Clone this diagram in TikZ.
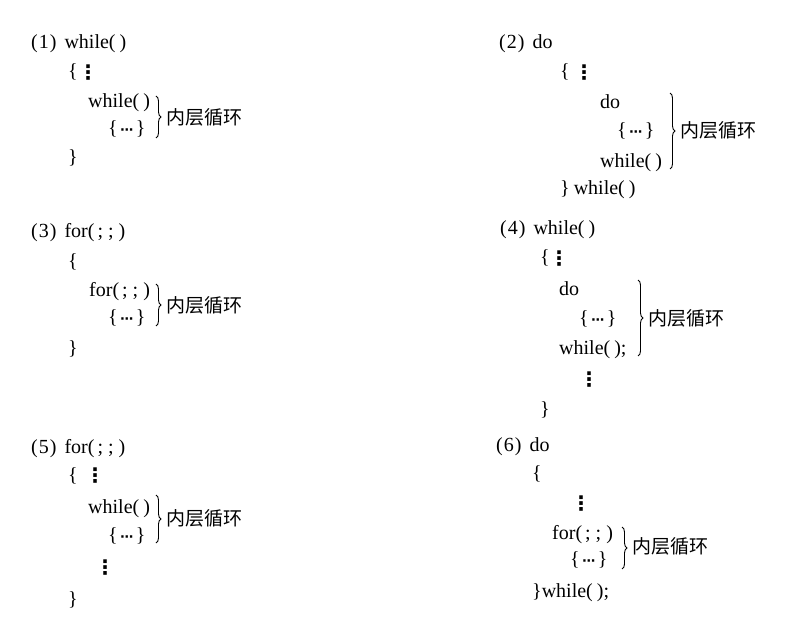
\documentclass[tikz,border=0pt]{standalone}
\usepackage{fontspec}
\setmainfont{Liberation Serif}
\newfontfamily\cjk{Noto Sans CJK SC}
\newfontfamily\sym{DejaVu Sans}
\usetikzlibrary{decorations.pathreplacing}
\newcommand\codefont{\fontsize{20}{23}\selectfont}
\newcommand\cjkfont{\cjk\fontsize{19}{22}\selectfont}
\newcommand\dotfont{\sym\bfseries\fontsize{20}{22}\selectfont}
\newcommand\cd{\{\kern2.5pt{\sym\bfseries\fontsize{13}{14}\selectfont ⋯}\kern2.5pt\}}
\newcommand\wh{while(\kern4pt)}
\newcommand\fr{for(\kern3pt;\kern5pt;\kern5pt)}
\newcommand\num[1]{(\kern1pt#1\kern1pt)\kern8pt}
\begin{document}
\begin{tikzpicture}[x=1pt,y=-1pt,
  code/.style={anchor=west, inner sep=0pt, font=\codefont, text height=18pt, text depth=4pt},
  lbl/.style={anchor=west, inner sep=0pt, font=\cjkfont},
  dts/.style={inner sep=0pt, font=\dotfont},
  brc/.style={decorate, decoration={brace, amplitude=5pt}, line width=0.9pt}]
\useasboundingbox[fill=white] (0,0) rectangle (806,628);
% (1)
\node[code] (a1) at (31,42) {\num{1}\wh};
\node[code] (a2) at (68,71) {\{};
\node[dts] (a2d) at (88,73) {⋮};
\node[code] (a3) at (88,101) {\wh};
\node[code] (a4) at (108,128) {\cd};
\node[code] (a5) at (68,157) {\}};
\coordinate (a6) at (156,96);
\coordinate (a7) at (156,138);
\draw[brc] (a6) -- (a7);
\node[lbl] (a8) at (166,117) {内层循环};
% (2)
\node[code] (b1) at (499,42) {\num{2}do};
\node[code] (b2) at (560,71) {\{};
\node[dts] (b2d) at (584,73) {⋮};
\node[code] (b3) at (600,102) {do};
\node[code] (b4) at (617,130) {\cd};
\node[code] (b5) at (600,161) {\wh};
\node[code] (b6) at (560,188) {\}\kern4pt\wh};
\coordinate (b7) at (670,93);
\coordinate (b8) at (670,169);
\draw[brc] (b7) -- (b8);
\node[lbl] (b9) at (680,130) {内层循环};
% (3)
\node[code] (c1) at (31,231) {\num{3}\fr};
\node[code] (c2) at (68,261) {\{};
\node[code] (c3) at (89,290) {\fr};
\node[code] (c4) at (108,317) {\cd};
\node[code] (c5) at (68,347) {\}};
\coordinate (c6) at (156,284);
\coordinate (c7) at (156,326);
\draw[brc] (c6) -- (c7);
\node[lbl] (c8) at (166,305) {内层循环};
% (4)
\node[code] (d1) at (500,228) {\num{4}\wh};
\node[code] (d2) at (540,257) {\{};
\node[dts] (d2d) at (559,259) {⋮};
\node[code] (d3) at (559,289) {do};
\node[code] (d4) at (579,318) {\cd};
\node[code] (d5) at (559,348) {\wh;};
\node[dts] (d6) at (589,380) {⋮};
\node[code] (d7) at (540,408) {\}};
\coordinate (d8) at (638,280);
\coordinate (d9) at (638,356);
\draw[brc] (d8) -- (d9);
\node[lbl] (d10) at (648,318) {内层循环};
% (5)
\node[code] (e1) at (31,446) {\num{5}\fr};
\node[code] (e2) at (68,474) {\{};
\node[dts] (e2d) at (95,476) {⋮};
\node[code] (e3) at (88,506) {\wh};
\node[code] (e4) at (108,534) {\cd};
\node[dts] (e5) at (105,568) {⋮};
\node[code] (e6) at (68,598) {\}};
\coordinate (e7) at (156,495);
\coordinate (e8) at (156,543);
\draw[brc] (e7) -- (e8);
\node[lbl] (e9) at (166,518) {内层循环};
% (6)
\node[code] (f1) at (496,444) {\num{6}do};
\node[code] (f2) at (532,472) {\{};
\node[dts] (f3) at (581,504) {⋮};
\node[code] (f4) at (552,532) {\fr};
\node[code] (f5) at (570,558) {\cd};
\node[code] (f6) at (532,590) {\}\wh;};
\coordinate (f7) at (622,527);
\coordinate (f8) at (622,569);
\draw[brc] (f7) -- (f8);
\node[lbl] (f9) at (632,546) {内层循环};
\end{tikzpicture}
\end{document}
